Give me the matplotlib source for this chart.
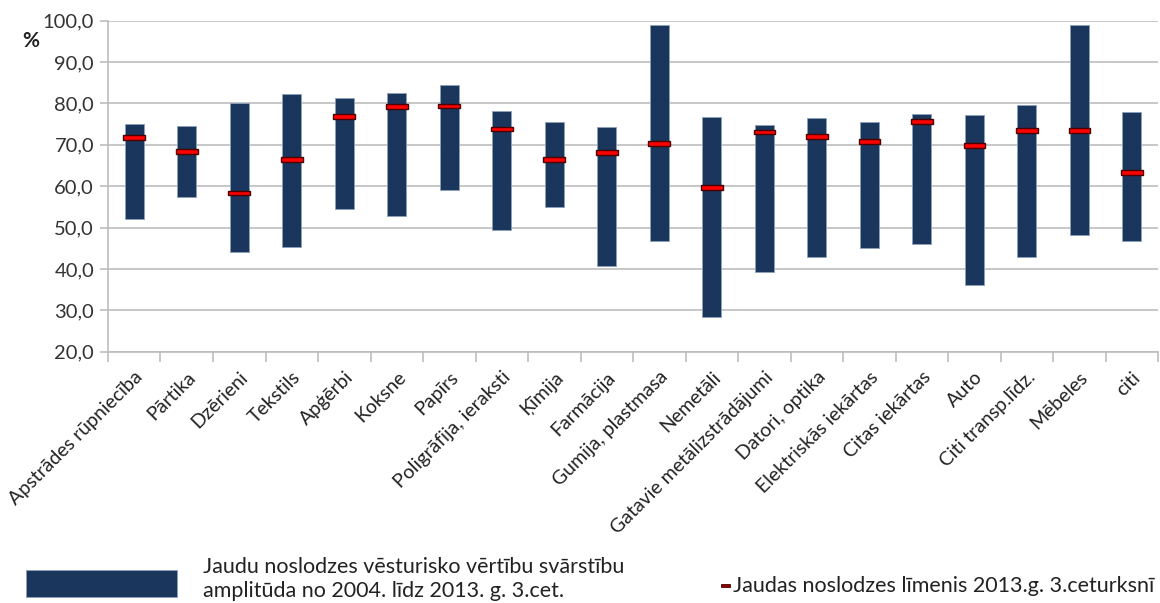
import matplotlib
matplotlib.use("Agg")
import matplotlib.pyplot as plt
from matplotlib.patches import Rectangle
from matplotlib.ticker import FuncFormatter, MultipleLocator
import numpy as np

plt.rcParams['font.family'] = ['Lato', 'DejaVu Sans']

nozares = [
    "Apstrādes rūpniecība", "Pārtika", "Dzērieni", "Tekstils", "Apģērbi",
    "Koksne", "Papīrs", "Poligrāfija, ieraksti", "Ķīmija", "Farmācija",
    "Gumija, plastmasa", "Nemetāli", "Gatavie metālizstrādājumi",
    "Datori, optika", "Elektriskās iekārtas", "Citas iekārtas", "Auto",
    "Citi transp.līdz.", "Mēbeles", "citi",
]
# vēsturiskais maksimums un minimums (2004 - 2013 Q3)
maks = [75.1, 74.5, 80.1, 82.4, 81.4, 82.6, 84.4, 78.1, 75.4, 74.3,
        98.9, 76.8, 74.8, 76.4, 75.4, 77.4, 77.2, 79.7, 98.9, 77.9]
mins = [52.1, 57.5, 44.0, 45.3, 54.4, 52.8, 59.2, 49.5, 55.0, 40.8,
        46.7, 28.3, 39.2, 42.9, 45.1, 46.0, 36.2, 42.9, 48.3, 46.7]
# noslodze 2013.g. 3.ceturksnī
limenis = [71.8, 68.4, 58.4, 66.5, 76.9, 79.2, 79.4, 73.8, 66.5, 68.1,
           70.3, 59.7, 73.1, 72.0, 70.8, 75.6, 69.9, 73.5, 73.5, 63.3]

BLUE = '#1a365d'
GRID = '#bdbdbd'
x = np.arange(len(nozares))

fig = plt.figure(figsize=(11.6, 6.03), dpi=100)
ax = fig.add_axes([0.0931, 0.4167, 0.9052, 0.549])

ax.bar(x, np.array(maks) - np.array(mins), bottom=mins, width=0.37,
       color=BLUE, edgecolor='#8da0bb', linewidth=0.6, zorder=3)
ax.bar(x, 1.1, bottom=np.array(limenis) - 0.55, width=0.41,
       color='#ff0000', edgecolor='#4a0000', linewidth=1.0, zorder=4)

ax.set_xlim(-0.5, len(nozares) - 0.5)
ax.set_ylim(20, 100)
ax.yaxis.set_major_locator(MultipleLocator(10))
ax.yaxis.set_major_formatter(FuncFormatter(lambda v, p: f"{v:.1f}".replace('.', ',')))
ax.grid(axis='y', color=GRID, linewidth=1.2, zorder=0)

for s in ['top', 'right']:
    ax.spines[s].set_visible(False)
for s in ['left', 'bottom']:
    ax.spines[s].set_color(GRID)
    ax.spines[s].set_linewidth(1.2)

ax.set_xticks(np.arange(len(nozares) + 1) - 0.5)
ax.set_xticklabels([])
ax.set_xticks(x, minor=True)
ax.set_xticklabels(nozares, minor=True, rotation=45, ha='right',
                   rotation_mode='anchor', fontsize=14, color='#222222')
ax.tick_params(axis='x', which='major', length=7, color=GRID, width=1.2)
ax.tick_params(axis='x', which='minor', length=0, pad=12)
ax.tick_params(axis='y', length=6, color=GRID, width=1.2, pad=4,
               labelsize=14.5, labelcolor='#333333')

fig.text(0.019, 0.922, '%', fontsize=15, fontweight='bold', color='#222222')

# leģenda
fig.patches.append(Rectangle((0.022, 0.01), 0.131, 0.045, transform=fig.transFigure,
                             facecolor=BLUE, edgecolor='#8da0bb', linewidth=0.6))
fig.text(0.175, 0.004, "Jaudu noslodzes vēsturisko vērtību svārstību\n"
         "amplitūda no 2004. līdz 2013. g. 3.cet.",
         fontsize=15.5, color='#222222', linespacing=1.25, va='bottom')
fig.patches.append(Rectangle((0.6215, 0.0265), 0.0075, 0.005, transform=fig.transFigure,
                             facecolor='#8b0000', edgecolor='#4a0000', linewidth=0.6))
fig.text(0.632, 0.029, "Jaudas noslodzes līmenis 2013.g. 3.ceturksnī",
         fontsize=15.5, color='#222222', va='center')

fig.savefig("out.png", dpi=100)
